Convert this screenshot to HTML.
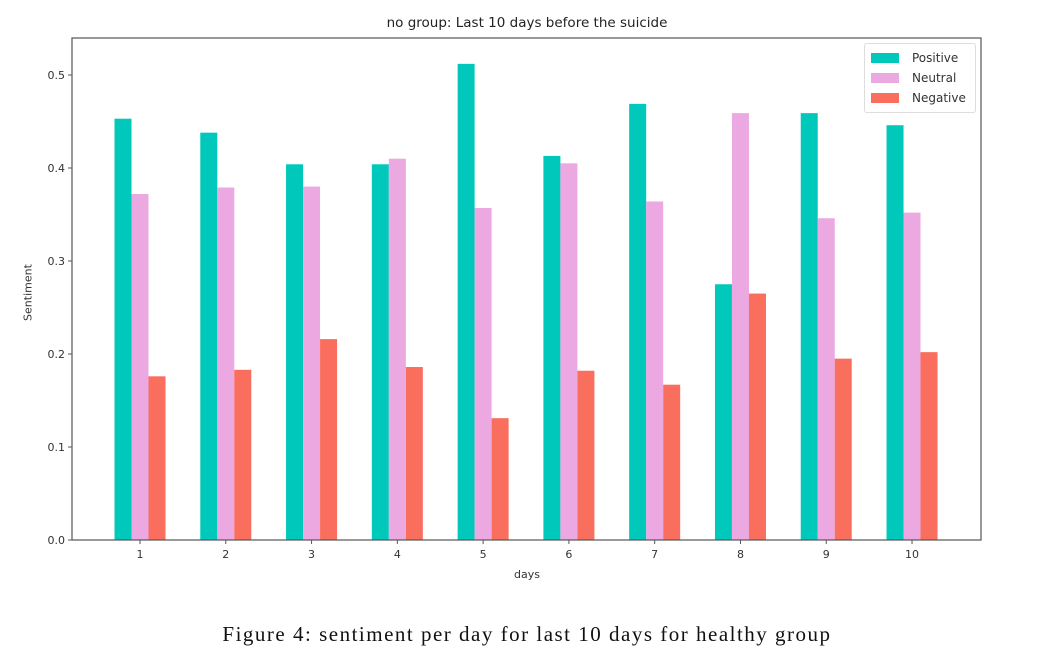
<!DOCTYPE html>
<html><head><meta charset="utf-8"><style>
body{margin:0;background:#fff;}
svg{display:block;}
text{font-family:"DejaVu Sans","Liberation Sans",sans-serif;fill:#333;}
</style></head><body>
<svg id="c" width="1041" height="668"></svg>
<script>
const days=[1,2,3,4,5,6,7,8,9,10];
const positive=[0.453,0.438,0.404,0.404,0.512,0.413,0.469,0.275,0.459,0.446];
const neutral=[0.372,0.379,0.380,0.410,0.357,0.405,0.364,0.459,0.346,0.352];
const negative=[0.176,0.183,0.216,0.186,0.131,0.182,0.167,0.265,0.195,0.202];
const yTicks=[0.0,0.1,0.2,0.3,0.4,0.5];
const yTickLabels=["0.0","0.1","0.2","0.3","0.4","0.5"];
const L=72,R=981,T=38,B=540;
const y=v=>B-v*930;
const x=d=>140+(d-1)*85.78;
const ns="http://www.w3.org/2000/svg";
const svg=document.getElementById('c');
function el(t,a,txt){const e=document.createElementNS(ns,t);for(const k in a)e.setAttribute(k,a[k]);if(txt!==undefined)e.textContent=txt;svg.appendChild(e);return e;}
const series=[[positive,'#00c8bb',-17,'positive'],[neutral,'#eba8e1',0,'neutral'],[negative,'#fa6e5e',17,'negative']];
series.forEach(([vals,col,off,nm])=>{vals.forEach((v,i)=>{
 const r=el('rect',{x:x(days[i])+off-8.5,y:y(v),width:17,height:B-y(v),fill:col});
 
 
});});
const frame=el('rect',{x:L,y:T,width:R-L,height:B-T,fill:'none',stroke:'#555','stroke-width':1.2});


yTicks.forEach((v,i)=>{
 el('line',{x1:L-4,x2:L,y1:y(v),y2:y(v),stroke:'#555'});
 const t=el('text',{x:L-7,y:y(v)+4,'text-anchor':'end','font-size':11},yTickLabels[i]);
 
 
});
days.forEach(d=>{
 el('line',{x1:x(d),x2:x(d),y1:B,y2:B+4,stroke:'#555'});
 const t=el('text',{x:x(d),y:B+18,'text-anchor':'middle','font-size':11},String(d));
 
 
});
</script>
<div style="position:absolute;left:0;top:0;width:1041px;height:668px;pointer-events:none">
<div style="position:absolute;left:0;width:1054px;top:15px;text-align:center;font:13.5px 'DejaVu Sans','Liberation Sans',sans-serif;color:#222">no group: Last 10 days before the suicide</div>
<div style="position:absolute;left:0;width:1054px;top:568px;text-align:center;font:11px 'DejaVu Sans','Liberation Sans',sans-serif;color:#333">days</div>
<div style="position:absolute;left:-2px;top:286px;transform:rotate(-90deg);transform-origin:center;font:11px 'DejaVu Sans','Liberation Sans',sans-serif;color:#333;width:60px;text-align:center">Sentiment</div>
<div style="position:absolute;left:864px;top:43px;width:110px;height:68px;border:1px solid #ddd;border-radius:3px;background:#fff;font:12px 'DejaVu Sans','Liberation Sans',sans-serif;color:#333">
 <div style="position:absolute;left:6px;top:6px;"><span style="display:inline-block;width:28px;height:10px;background:#00c8bb;vertical-align:middle"></span><span style="margin-left:13px;vertical-align:middle">Positive</span></div>
 <div style="position:absolute;left:6px;top:26px;"><span style="display:inline-block;width:28px;height:10px;background:#eba8e1;vertical-align:middle"></span><span style="margin-left:13px;vertical-align:middle">Neutral</span></div>
 <div style="position:absolute;left:6px;top:46px;"><span style="display:inline-block;width:28px;height:10px;background:#fa6e5e;vertical-align:middle"></span><span style="margin-left:13px;vertical-align:middle">Negative</span></div>
</div>
<div style="position:absolute;left:0;width:1054px;top:622px;text-align:center;font:21px 'Liberation Serif',serif;letter-spacing:1.5px;color:#111">Figure 4: sentiment per day for last 10 days for healthy group</div>
</div>
</body></html>
